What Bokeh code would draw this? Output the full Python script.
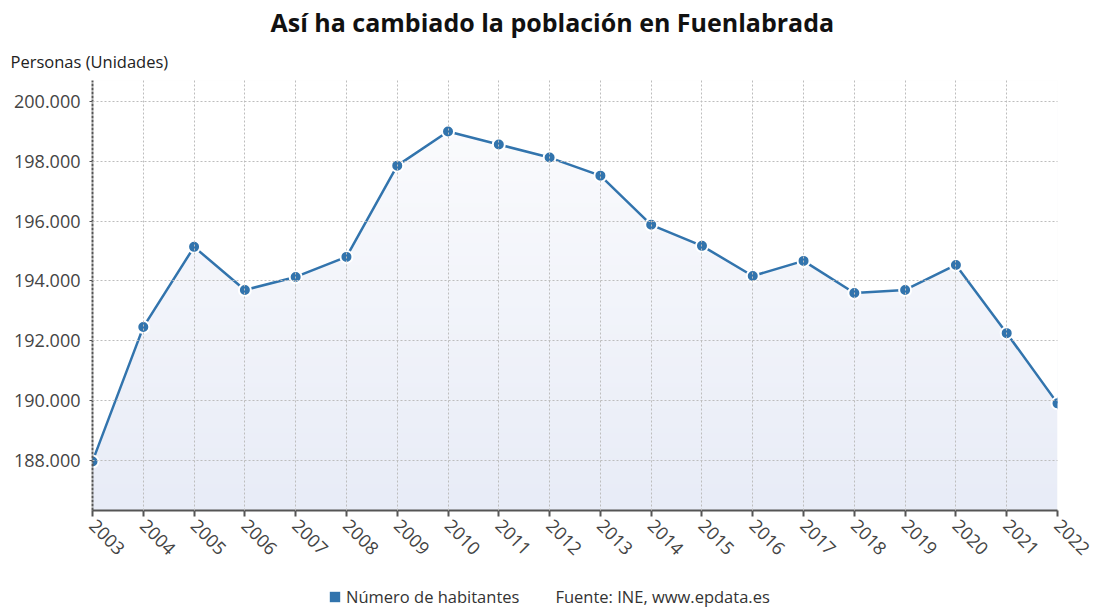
import math
import numpy as np
from bokeh.plotting import figure
from bokeh.layouts import column
from bokeh.models import Range1d, FixedTicker, Title, Legend, LegendItem
from bokeh.embed import file_html
from bokeh.resources import INLINE

# ---- data ----
years = list(range(2003, 2023))
habitantes = [187970, 192460, 195140, 193700, 194135, 194805, 197855, 198995,
              198560, 198124, 197520, 195878, 195174, 194168, 194671, 193600,
              193700, 194537, 192257, 189911]
y_ticks = [188000, 190000, 192000, 194000, 196000, 198000, 200000]
y_tick_labels = ["188.000", "190.000", "192.000", "194.000", "196.000", "198.000", "200.000"]
title_text = "Así ha cambiado la población en Fuenlabrada"
y_label = "Personas (Unidades)"
series_name = "Número de habitantes"
source_text = "Fuente: INE, www.epdata.es"

FONT = "Open Sans"
LINE = "#3274ad"
Y0, Y1 = 186330, 200700
W = 1092

p = figure(width=W, height=570, output_backend="svg", toolbar_location=None,
           x_range=Range1d(years[0], years[-1]), y_range=Range1d(Y0, Y1),
           min_border_left=92, min_border_right=35, min_border_top=0, min_border_bottom=60)
p.title = None
p.outline_line_color = None
p.background_fill_color = "white"
p.border_fill_color = "white"

# gradient background under curve
n = 200
top = np.array([253, 253, 254], dtype=float)
bot = np.array([232, 236, 247], dtype=float)
t = np.linspace(0, 1, n)[:, None]  # row 0 = bottom
cols = bot * (1 - t) + top * t
img = np.zeros((n, 1), dtype=np.uint32)
view = img.view(dtype=np.uint8).reshape((n, 1, 4))
view[:, 0, 0] = cols[:, 0].astype(np.uint8)
view[:, 0, 1] = cols[:, 1].astype(np.uint8)
view[:, 0, 2] = cols[:, 2].astype(np.uint8)
view[:, 0, 3] = 255
p.image_rgba(image=[img], x=years[0], y=Y0, dw=years[-1] - years[0], dh=Y1 - Y0)
# white above the curve
p.varea(x=years, y1=habitantes, y2=[Y1] * len(years), fill_color="white")

line_r = p.line(years, habitantes, line_color=LINE, line_width=2.5)
pts = p.scatter(years, habitantes, size=12, fill_color=LINE, line_color="white", line_width=2)

# grid
for g in (p.xgrid, p.ygrid):
    g.level = "overlay"
    g.grid_line_color = "#bdbdbd"
    g.grid_line_dash = "2 2"
    g.grid_line_width = 1
p.xgrid.ticker = FixedTicker(ticks=years)
p.ygrid.ticker = FixedTicker(ticks=y_ticks)

# axes
p.xaxis.ticker = FixedTicker(ticks=years)
p.xaxis.major_label_orientation = -math.pi / 4
p.xaxis.axis_line_color = "#555555"
p.xaxis.axis_line_width = 2
p.xaxis.major_tick_line_color = "#555555"
p.xaxis.major_tick_line_width = 2
p.xaxis.major_tick_out = 6
p.xaxis.major_tick_in = 0
p.xaxis.minor_tick_line_color = None
p.xaxis.major_label_text_font = FONT
p.xaxis.major_label_text_font_size = "18px"
p.xaxis.major_label_text_color = "#444444"
p.xaxis.major_label_standoff = 6

p.yaxis.ticker = FixedTicker(ticks=y_ticks)
p.yaxis.major_label_overrides = {k: v for k, v in zip(y_ticks, y_tick_labels)}
p.yaxis.axis_line_color = "#555555"
p.yaxis.axis_line_width = 2
p.yaxis.axis_line_dash = "3 1"
p.yaxis.major_tick_line_color = "#555555"
p.yaxis.major_tick_out = 3
p.yaxis.major_tick_in = 0
p.yaxis.minor_tick_line_color = None
p.yaxis.major_label_text_font = FONT
p.yaxis.major_label_text_font_size = "18px"
p.yaxis.major_label_text_color = "#444444"
p.yaxis.major_label_standoff = 9

# titles (first added is nearest to plot)
p.add_layout(Title(text=y_label, align="left", offset=-82, text_font=FONT,
                   text_font_size="16.5px", text_font_style="normal",
                   text_color="#222222", standoff=15), "above")
p.add_layout(Title(text=title_text, align="left", offset=178, text_font=FONT,
                   text_font_size="25px", text_font_style="bold",
                   text_color="#111111", standoff=4), "above")

# legend strip under the chart (its frame is aligned with the chart's frame)
lg = figure(width=W, height=38, output_backend="svg", toolbar_location=None,
            x_range=Range1d(0, 1), y_range=Range1d(0, 1),
            x_axis_type=None, y_axis_type=None,
            min_border_left=0, min_border_right=0, min_border_top=0, min_border_bottom=0)
lg.outline_line_color = None
lg.xgrid.visible = False
lg.ygrid.visible = False
leg_sq = lg.quad(left=[5], right=[6], bottom=[5], top=[6], fill_color=LINE, line_color=None)
leg_blank = lg.quad(left=[5], right=[6], bottom=[5], top=[6], fill_alpha=0, line_alpha=0)
legend = Legend(items=[LegendItem(label=series_name, renderers=[leg_sq]),
                       LegendItem(label=source_text, renderers=[leg_blank])],
                orientation="horizontal", location=(236, 0),
                label_text_font=FONT, label_text_font_size="16.5px",
                label_text_color="#333333", border_line_color=None,
                background_fill_alpha=0, spacing=18, glyph_width=13, glyph_height=13,
                label_standoff=5, padding=2, margin=0)
lg.add_layout(legend, "center")

layout = column(p, lg, spacing=0)
open("out.html", "w").write(file_html(layout, INLINE))
